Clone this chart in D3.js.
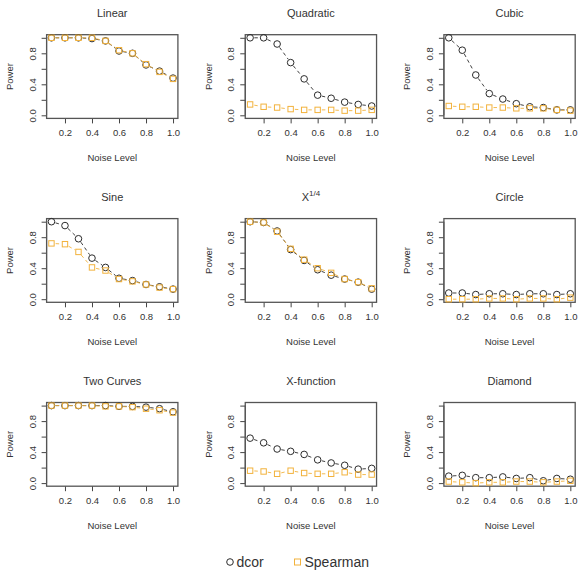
<!DOCTYPE html>
<html>
<head>
<meta charset="utf-8">
<script src="https://cdn.jsdelivr.net/npm/d3@7/dist/d3.min.js"></script>
<style>
  html, body { margin: 0; padding: 0; background: #fff; }
  svg { display: block; font-family: "Liberation Sans", Arial, Helvetica, sans-serif; }
</style>
</head>
<body>
<svg id="chart" width="579" height="582"></svg>
<script>
const noiseLevels = [0.1, 0.2, 0.3, 0.4, 0.5, 0.6, 0.7, 0.8, 0.9, 1.0];
const panelTitles = ["Linear", "Quadratic", "Cubic", "Sine", "X^1/4", "Circle", "Two Curves", "X-function", "Diamond"];
const xTicks = [0.2, 0.4, 0.6, 0.8, 1.0];
const yTicks = [0.0, 0.2, 0.4, 0.6, 0.8, 1.0];
const yTickLabels = ["0.0", "", "0.4", "", "0.8", ""];
const seriesNames = ["dcor", "Spearman"];

const dcorLinear     = [1.00, 1.00, 1.00, 0.99, 0.96, 0.83, 0.80, 0.65, 0.57, 0.48];
const spearLinear    = [1.00, 1.00, 1.00, 1.00, 0.96, 0.84, 0.80, 0.66, 0.56, 0.47];
const dcorQuadratic  = [1.00, 1.00, 0.92, 0.68, 0.47, 0.26, 0.22, 0.17, 0.14, 0.12];
const spearQuadratic = [0.14, 0.11, 0.10, 0.08, 0.07, 0.07, 0.07, 0.06, 0.06, 0.07];
const dcorCubic      = [1.00, 0.84, 0.52, 0.28, 0.21, 0.15, 0.11, 0.10, 0.07, 0.07];
const spearCubic     = [0.12, 0.11, 0.11, 0.10, 0.10, 0.09, 0.09, 0.09, 0.07, 0.06];
const dcorSine       = [1.00, 0.95, 0.78, 0.53, 0.41, 0.27, 0.24, 0.19, 0.16, 0.13];
const spearSine      = [0.72, 0.71, 0.61, 0.41, 0.37, 0.26, 0.23, 0.19, 0.15, 0.13];
const dcorQuarter    = [1.00, 0.99, 0.88, 0.64, 0.50, 0.38, 0.31, 0.26, 0.22, 0.13];
const spearQuarter   = [1.00, 0.99, 0.87, 0.65, 0.51, 0.40, 0.34, 0.26, 0.22, 0.14];
const dcorCircle     = [0.08, 0.08, 0.06, 0.07, 0.07, 0.06, 0.07, 0.07, 0.06, 0.07];
const spearCircle    = [0.00, 0.00, 0.00, 0.01, 0.01, 0.00, 0.01, 0.01, 0.00, 0.02];
const dcorTwoCurves  = [1.00, 1.00, 1.00, 1.00, 1.00, 0.99, 0.99, 0.98, 0.96, 0.92];
const spearTwoCurves = [1.00, 1.00, 1.00, 1.00, 0.99, 0.99, 0.98, 0.96, 0.94, 0.91];
const dcorXfunc      = [0.58, 0.52, 0.44, 0.41, 0.37, 0.30, 0.26, 0.23, 0.18, 0.19];
const spearXfunc     = [0.16, 0.15, 0.12, 0.16, 0.13, 0.12, 0.12, 0.14, 0.11, 0.11];
const dcorDiamond    = [0.09, 0.10, 0.07, 0.07, 0.08, 0.06, 0.07, 0.03, 0.06, 0.05];
const spearDiamond   = [0.02, 0.01, 0.00, 0.01, 0.01, 0.02, 0.02, 0.01, 0.02, 0.03];

const dcorSeries = [dcorLinear, dcorQuadratic, dcorCubic, dcorSine, dcorQuarter, dcorCircle, dcorTwoCurves, dcorXfunc, dcorDiamond];
const spearSeries = [spearLinear, spearQuadratic, spearCubic, spearSine, spearQuarter, spearCircle, spearTwoCurves, spearXfunc, spearDiamond];

const svg = d3.select("#chart");
const textColor = "#333";
const dcorColor = "#2b2b2b";
const spearColor = "#f2b23c";

const colStep = 198.65, rowStep = 183.9;
const boxLeft = 46.6, boxRight = 177.9, boxTop = 34.7, boxBottom = 118.4;

function drawSeries(g, x, y, values, color, shape) {
  const pts = values.map((v, i) => [x(noiseLevels[i]), y(v)]);
  const gap = 4.2;
  for (let i = 0; i < pts.length - 1; i++) {
    const [x0, y0] = pts[i], [x1, y1] = pts[i + 1];
    const dx = x1 - x0, dy = y1 - y0, len = Math.hypot(dx, dy);
    if (len <= 2 * gap) continue;
    const ux = dx / len, uy = dy / len;
    g.append("line")
      .attr("x1", x0 + ux * gap).attr("y1", y0 + uy * gap)
      .attr("x2", x1 - ux * gap).attr("y2", y1 - uy * gap)
      .attr("stroke", color).attr("stroke-width", 0.9)
      .attr("stroke-dasharray", "3.5,3");
  }
  if (shape === "circle") {
    g.selectAll(null).data(values).enter().append("circle")
      .attr("cx", (d, i) => x(noiseLevels[i])).attr("cy", d => y(d))
      .attr("r", 3.3).attr("fill", "none").attr("stroke", color).attr("stroke-width", 1);
  } else {
    const s = 5.4;
    g.selectAll(null).data(values).enter().append("rect")
      .attr("x", (d, i) => x(noiseLevels[i]) - s / 2).attr("y", d => y(d) - s / 2)
      .attr("width", s).attr("height", s)
      .attr("fill", "none").attr("stroke", color).attr("stroke-width", 1);
  }
}

panelTitles.forEach((title, p) => {
  const col = p % 3, row = Math.floor(p / 3);
  const g = svg.append("g").attr("transform", `translate(${col * colStep},${row * rowStep})`);
  const x = d3.scaleLinear().domain([0.064, 1.036]).range([boxLeft, boxRight]);
  const y = d3.scaleLinear().domain([-0.04, 1.04]).range([boxBottom, boxTop]);

  const xa = g.append("g").attr("transform", `translate(0,${boxBottom})`)
    .call(d3.axisBottom(x).tickValues(xTicks).tickSize(5).tickPadding(6).tickFormat(d3.format(".1f")));
  xa.select(".domain").remove();
  xa.selectAll("line").attr("stroke", "#444");
  xa.selectAll("text").attr("font-size", 9.5).attr("fill", textColor)
    .attr("font-family", "Liberation Sans, Arial, sans-serif");

  const ya = g.append("g").attr("transform", `translate(${boxLeft},0)`)
    .call(d3.axisLeft(y).tickValues(yTicks).tickSize(5).tickFormat((d, i) => yTickLabels[i]));
  ya.select(".domain").remove();
  ya.append("line").attr("x1", 0).attr("x2", 0).attr("y1", y(0)).attr("y2", y(1)).attr("stroke", "#444");
  ya.selectAll("line").attr("stroke", "#444");
  ya.selectAll(".tick text")
    .attr("font-size", 9.5).attr("fill", textColor)
    .attr("font-family", "Liberation Sans, Arial, sans-serif")
    .attr("x", null).attr("dy", null)
    .attr("text-anchor", "middle")
    .attr("transform", "translate(-11,0) rotate(-90)");

  g.append("rect").attr("x", boxLeft).attr("y", boxTop)
    .attr("width", boxRight - boxLeft).attr("height", boxBottom - boxTop)
    .attr("fill", "none").attr("stroke", "#555").attr("stroke-width", 1.3);

  drawSeries(g, x, y, dcorSeries[p], dcorColor, "circle");
  drawSeries(g, x, y, spearSeries[p], spearColor, "square");

  const cx = (boxLeft + boxRight) / 2;
  const t = g.append("text").attr("x", cx).attr("y", 17).attr("text-anchor", "middle")
    .attr("font-size", 11).attr("fill", textColor);
  if (title === "X^1/4") {
    t.append("tspan").text("X");
    t.append("tspan").attr("dy", -4.5).attr("font-size", 8).text("1/4");
  } else {
    t.text(title);
  }

  g.append("text").attr("x", cx).attr("y", 161).attr("text-anchor", "middle")
    .attr("font-size", 9.5).attr("fill", textColor).text("Noise Level");
  g.append("text").attr("transform", `translate(13,${(boxTop + boxBottom) / 2}) rotate(-90)`)
    .attr("text-anchor", "middle").attr("font-size", 9.5).attr("fill", textColor).text("Power");
});

const lg = svg.append("g");
const legendItems = [
  { name: seriesNames[0], color: dcorColor, shape: "circle", mx: 230, tx: 236.5 },
  { name: seriesNames[1], color: spearColor, shape: "square", mx: 297.5, tx: 304.5 }
];
legendItems.forEach(it => {
  if (it.shape === "circle") {
    lg.append("circle").attr("cx", it.mx).attr("cy", 562).attr("r", 3.3)
      .attr("fill", "none").attr("stroke", it.color).attr("stroke-width", 1);
  } else {
    lg.append("rect").attr("x", it.mx - 3).attr("y", 559).attr("width", 6).attr("height", 6)
      .attr("fill", "none").attr("stroke", it.color).attr("stroke-width", 1);
  }
  lg.append("text").attr("x", it.tx).attr("y", 567).attr("font-size", 14)
    .attr("fill", textColor).text(it.name);
});
</script>
</body>
</html>
